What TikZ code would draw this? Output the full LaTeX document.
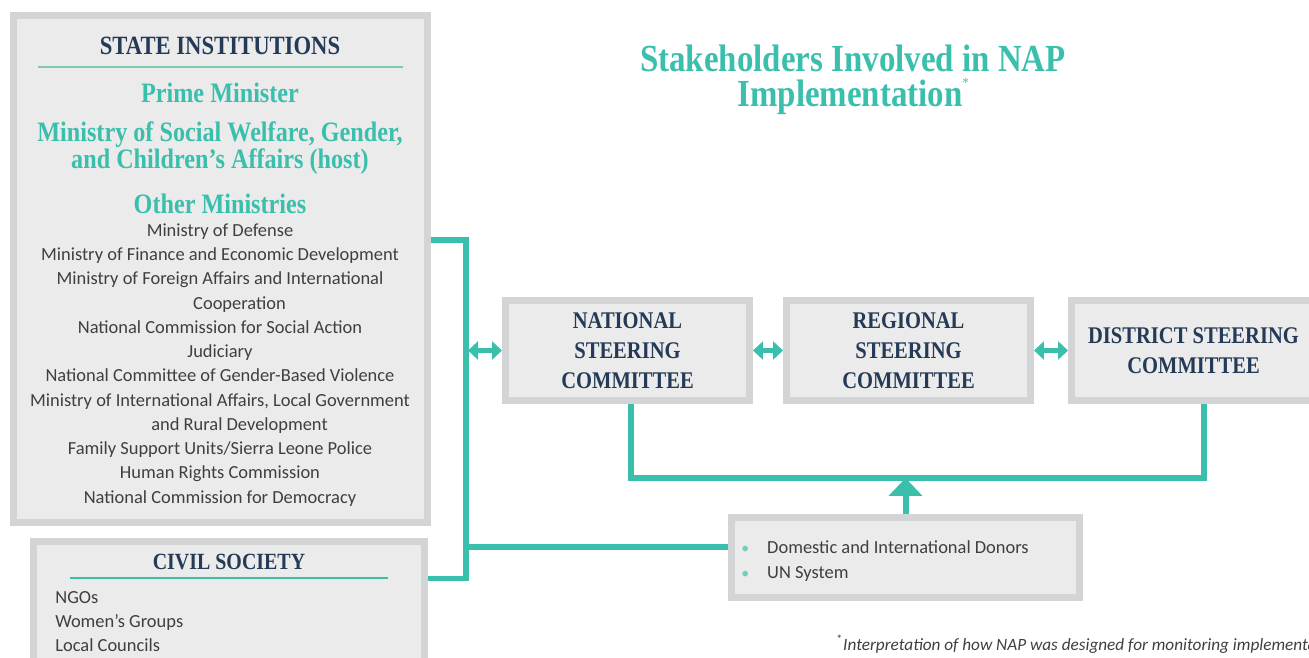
\documentclass[tikz,border=0pt]{standalone}
\usepackage{fontspec}
\setmainfont{Liberation Serif}
\setsansfont{Carlito}
\newfontfamily\headfont[FakeStretch=0.86]{Liberation Serif}
\usetikzlibrary{arrows.meta}
\usetikzlibrary{positioning}
\usepackage{xcolor}
\definecolor{napteal}{HTML}{3BBFAD}
\definecolor{mintrule}{HTML}{7DCBA8}
\definecolor{napnavy}{HTML}{243A56}
\definecolor{boxline}{HTML}{D3D4D6}
\definecolor{boxfill}{HTML}{EBEBEB}
\definecolor{bodygray}{HTML}{3F3F3F}
\definecolor{dotteal}{HTML}{6CCFBF}

\begin{document}
\begin{tikzpicture}[x=0.02cm, y=-0.02cm,
    panel/.style={draw=boxline, fill=boxfill, line width=0.14cm, inner sep=0pt},
    committee/.style={panel, minimum width=4.88cm, minimum height=2cm, align=center,
      font=\headfont\bfseries\fontsize{13.6}{17}\selectfont, text=napnavy},
    navyhead/.style={font=\headfont\bfseries, text=napnavy},
    tealhead/.style={font=\headfont\bfseries\fontsize{16}{14.5}\selectfont, text=napteal, align=center},
    bodytext/.style={font=\sffamily\fontsize{10.5}{13.8}\selectfont, text=bodygray},
    link/.style={draw=napteal, line width=0.12cm},
    dblarrow/.style={draw=napteal, line width=0.1cm,
      {Triangle[width=0.36cm,length=0.2cm]}-{Triangle[width=0.36cm,length=0.2cm]}},
    uparrow/.style={draw=napteal, line width=0.12cm, -{Triangle[width=0.66cm,length=0.36cm]}}]
  \useasboundingbox (0,0) rectangle (1309,658);

  % title
  \node[tealhead, font=\headfont\bfseries\fontsize{21.8}{20}\selectfont] (title) at (853,80)
    {Stakeholders Involved in NAP\\Implementation\raisebox{1.1ex}{\mdseries\fontsize{8}{8}\selectfont *}};

  % state institutions
  \node[panel, minimum width=8.28cm, minimum height=10.14cm] (state) at (220.5,269) {};
  \node[navyhead, font=\headfont\bfseries\fontsize{15}{18}\selectfont] (statehead) at (220,46) {STATE INSTITUTIONS};
  \draw[mintrule, line width=0.05cm] (38,67) -- (403,67);
  \node[tealhead] (pm) at (220,93) {Prime Minister};
  \node[tealhead] (mswgca) at (220,148) {Ministry of Social Welfare, Gender,\\and Children’s Affairs (host)};
  \node[tealhead] (others) at (220,204) {Other Ministries};
  \node[bodytext, align=center] (ministries) at (220,365) {Ministry of Defense\\
    Ministry of Finance and Economic Development\\
    Ministry of Foreign Affairs and International\\
    \hspace*{0.78cm}Cooperation\\
    National Commission for Social Action\\
    Judiciary\\
    National Committee of Gender-Based Violence\\
    Ministry of International Affairs, Local Government\\
    \hspace*{0.78cm}and Rural Development\\
    Family Support Units/Sierra Leone Police\\
    Human Rights Commission\\
    National Commission for Democracy};

  % civil society
  \node[panel, minimum width=7.82cm, minimum height=3.6cm] (civil) at (229,631.5) {};
  \node[navyhead, font=\headfont\bfseries\fontsize{13.2}{16}\selectfont] (civilhead) at (229,562) {CIVIL SOCIETY};
  \draw[napteal, line width=0.05cm] (70,578) -- (388,578);
  \node[bodytext, align=left, anchor=north west, inner sep=0pt] (civillist) at (55,591)
    {NGOs\\Women’s Groups\\Local Councils};

  % steering committees
  \node[committee] (national) at (627.5,350.5) {NATIONAL\\STEERING\\COMMITTEE};
  \node[committee] (regional) at (908.5,350.5) {REGIONAL\\STEERING\\COMMITTEE};
  \node[committee] (district) at (1193.5,350.5) {DISTRICT STEERING\\COMMITTEE};

  % donors
  \node[panel, minimum width=6.96cm, minimum height=1.6cm] (donors) at (905.5,557.5) {};
  \node[bodytext, align=left, anchor=west, inner sep=0pt,
    font=\sffamily\fontsize{10.5}{14.2}\selectfont] (donorlist) at (741,561.5)
    {\textcolor{dotteal}{\small\textbullet}\hspace{0.36cm}Domestic and International Donors\\
     \textcolor{dotteal}{\small\textbullet}\hspace{0.36cm}UN System};

  % connectors
  \coordinate (spine top) at (465.5,240.5);
  \coordinate (spine bottom) at (465.5,578.5);
  \coordinate (donor tap) at (465.5,547);
  \coordinate (spine mid) at (468,350.5);
  \draw[link] (spine top -| state.east) -- (spine top) -- (spine bottom) -- (spine bottom -| civil.east);
  \draw[link] (donor tap) -- (donor tap -| donors.west);
  \draw[dblarrow] (spine mid) -- (national.west);
  \draw[dblarrow] (national.east) -- (regional.west);
  \draw[dblarrow] (regional.east) -- (district.west);

  \coordinate (fork left) at (631,478);
  \coordinate (fork right) at (1204,478);
  \draw[link] (fork left |- national.south) -- (fork left) -- (fork right) -- (fork right |- district.south);
  \draw[uparrow] (donors.north) -- (donors.north |- fork left);

  % footnote
  \node[anchor=base west, inner sep=0pt, text=bodygray, font=\sffamily\fontsize{9.8}{11}\selectfont] (footnote) at (836,650)
    {\textsuperscript{*}\itshape Interpretation of how NAP was designed for monitoring implementation};
\end{tikzpicture}
\end{document}
